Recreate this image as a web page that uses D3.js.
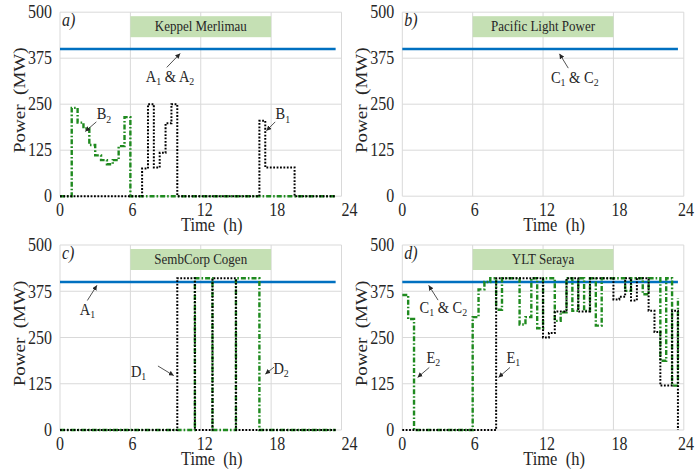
<!DOCTYPE html>
<html>
<head>
<meta charset="utf-8">
<script src="https://cdn.jsdelivr.net/npm/d3@7"></script>
<style>
  body { margin: 0; background: #fff; }
  svg { display: block; }
  svg text { font-family: "Liberation Serif", "Times New Roman", serif; }
</style>
</head>
<body>
<svg id="chart" width="696" height="472"></svg>
<script>
// half-hour steps of the day
const hours = d3.range(0, 24, 0.5);
const xTicks = [0, 6, 12, 18, 24];
const yTicks = [0, 125, 250, 375, 500];

// unit capacities (MW)
const capKeppel = 400;
const capPacific = 400;
const capSembcorp = 400;
const capSeraya = 400;

// a) Keppel Merlimau
const keppelB1 = [0,0,0,0,0,0,0,0,0,0, 0,0,0,0,75,250,78,118,198,250,
                  0,0,0,0,0,0,0,0,0,0, 0,0,0,0,205,78,78,78,78,78,
                  0,0,0,0,0,0,0,0];
const keppelB2 = [0,0,240,200,184,139,111,98,87,98, 136,215,0,0,0,0,0,0,0,0,
                  0,0,0,0,0,0,0,0,0,0, 0,0,0,0,0,0,0,0,0,0,
                  0,0,0,0,0,0,0,0];

// c) SembCorp Cogen
const sembD1 = [0,0,0,0,0,0,0,0,0,0, 0,0,0,0,0,0,0,0,0,0,
                410,410,410,0,0,0,410,410,410,410, 0,0,0,0,0,0,0,0,0,0,
                0,0,0,0,0,0,0,0];
const sembD2 = [0,0,0,0,0,0,0,0,0,0, 0,0,0,0,0,0,0,0,0,0,
                0,0,0,410,410,410,0,0,0,0, 410,410,410,410,0,0,0,0,0,0,
                0,0,0,0,0,0,0,0];

// d) YLT Seraya
const serayaE1 = [0,0,0,0,0,0,0,0,0,0, 0,0,0,0,0,0,410,410,410,410,
                  410,410,410,410,250,262,320,320,410,410, 320,320,410,410,410,410,353,360,410,350,
                  410,410,322,265,120,120,322,0];
const serayaE2 = [365,300,0,0,0,0,0,0,0,0, 0,0,305,380,400,410,325,410,410,410,
                  285,305,410,275,410,410,295,318,410,322, 410,322,410,282,410,410,410,410,376,410,
                  410,367,410,410,187,410,120,356];

const W = 696, H = 472;
const STRETCH = 1.12;
const INK = "#262626";
const cols = [[60, 341.5], [402.3, 683.8]];
const rows = [[196.2, 12.2], [430, 245]];

const styles = {
  green: { stroke: "#1f8a1f", width: 2.4, dash: "5,2,1.6,2" },
  black: { stroke: "#000", width: 2, dash: "1.8,1.6" }
};

const panels = [
  { key: "a)", name: "Keppel Merlimau", col: 0, row: 0, capacity: capKeppel,
    series: [{ values: keppelB2, style: "green" }, { values: keppelB1, style: "black" }],
    notes: [
      { text: "A_1 & A_2", t: 9.38, v: 310, from: [9.1, 350], to: [10.25, 388] },
      { text: "B_2", t: 3.75, v: 209, from: [3.1, 202], to: [2.15, 176] },
      { text: "B_1", t: 19.0, v: 209, from: [18.35, 202], to: [17.6, 178] }
    ] },
  { key: "b)", name: "Pacific Light Power", col: 1, row: 0, capacity: capPacific,
    series: [],
    notes: [
      { text: "C_1 & C_2", t: 14.7, v: 308, from: [14.15, 348], to: [13.4, 387] }
    ] },
  { key: "c)", name: "SembCorp Cogen", col: 0, row: 1, capacity: capSembcorp,
    series: [{ values: sembD2, style: "green" }, { values: sembD1, style: "black" }],
    notes: [
      { text: "A_1", t: 2.34, v: 311, from: [2.33, 350], to: [3.15, 391] },
      { text: "D_1", t: 6.7, v: 143, from: [8.35, 173], to: [9.7, 147] },
      { text: "D_2", t: 18.85, v: 151, from: [18.25, 170], to: [17.5, 151] }
    ] },
  { key: "d)", name: "YLT Seraya", col: 1, row: 1, capacity: capSeraya,
    series: [{ values: serayaE2, style: "green" }, { values: serayaE1, style: "black" }],
    notes: [
      { text: "C_1 & C_2", t: 3.5, v: 317, from: [3.05, 351], to: [2.25, 391] },
      { text: "E_2", t: 2.65, v: 182, from: [2.3, 169], to: [1.3, 142] },
      { text: "E_1", t: 9.47, v: 182, from: [9.18, 169], to: [8.2, 142] }
    ] }
];

const svg = d3.select("#chart");

svg.append("defs").append("marker")
  .attr("id", "arr")
  .attr("viewBox", "0 0 10 10")
  .attr("refX", 10).attr("refY", 5)
  .attr("markerWidth", 5).attr("markerHeight", 5)
  .attr("markerUnits", "userSpaceOnUse")
  .attr("orient", "auto")
  .append("path")
  .attr("d", "M0,0L10,5L0,10z")
  .attr("fill", INK);

// text helper: serif, slightly stretched vertically like the source image
function label(g, x, y, str, o = {}) {
  const tf = o.rotate
    ? `translate(${x},${y}) rotate(-90) scale(${STRETCH},1)`
    : `translate(${x},${y}) scale(1,${STRETCH})`;
  const size = o.size || 16;
  const t = g.append("text")
    .attr("transform", tf)
    .attr("text-anchor", o.anchor || "middle")
    .attr("font-size", size)
    .attr("fill", INK)
    .style("white-space", "pre");
  if (o.dy) t.attr("dy", o.dy);
  if (o.italic) t.attr("font-style", "italic");
  const parts = str.split(/_(\d)/);
  parts.forEach((p, i) => {
    if (!p) return;
    const sub = i % 2 === 1;
    const prevSub = i > 0 && (i - 1) % 2 === 1 && parts[i - 1];
    const ts = t.append("tspan").text(p);
    if (sub) ts.attr("font-size", size * 0.68).attr("dy", 3);
    else if (prevSub) ts.attr("dy", -3);
  });
  return t;
}

panels.forEach(p => {
  const x = d3.scaleLinear().domain([0, 24]).range(cols[p.col]);
  const xLab = d3.scaleLinear().domain([0, 24]).range([cols[p.col][0], cols[p.col][1] + 8]);
  const y = d3.scaleLinear().domain([0, 500]).range(rows[p.row]);
  const g = svg.append("g");
  const [left, right] = x.range();
  const [bottom, top] = y.range();

  // grid
  g.append("g").selectAll("line.h")
    .data(yTicks)
    .join("line")
    .attr("x1", left).attr("x2", right)
    .attr("y1", d => y(d)).attr("y2", d => y(d))
    .attr("stroke", "#d9d9d9").attr("stroke-width", 1);
  g.append("g").selectAll("line.v")
    .data(xTicks)
    .join("line")
    .attr("x1", d => x(d)).attr("x2", d => x(d))
    .attr("y1", top).attr("y2", bottom)
    .attr("stroke", "#d9d9d9").attr("stroke-width", 1);

  // tick labels
  yTicks.forEach(v => label(g, left - 8, y(v), String(v), { anchor: "end", dy: "0.35em" }));
  xTicks.forEach(t => label(g, Math.min(xLab(t), W - 10), bottom + 20, String(t)));

  // axis titles
  label(g, left - 35, (top + bottom) / 2 - 4, "Power  (MW)", { rotate: true, size: 17 });
  label(g, (left + right) / 2 + 11, bottom + 35, "Time  (h)", { size: 16.5 });

  // plant name box
  const bx0 = x(6), bx1 = x(18), by0 = top + 4, by1 = top + 25;
  g.append("rect")
    .attr("x", bx0).attr("y", by0)
    .attr("width", bx1 - bx0).attr("height", by1 - by0)
    .attr("fill", "#c5e0b4");
  label(g, (bx0 + bx1) / 2, (by0 + by1) / 2 + 4.5, p.name, { size: 13 });

  // panel letter
  label(g, left + 2, top + 14, p.key, { anchor: "start", italic: true });

  // capacity line
  const line = d3.line()
    .x(d => x(d.t))
    .y(d => y(d.v))
    .curve(d3.curveStepAfter);

  g.append("path")
    .datum([{ t: hours[0], v: p.capacity }, { t: hours[hours.length - 1], v: p.capacity }])
    .attr("d", line)
    .attr("fill", "none")
    .attr("stroke", "#0070c0")
    .attr("stroke-width", 2.5);

  // unit outputs
  p.series.forEach(s => {
    const st = styles[s.style];
    g.append("path")
      .datum(s.values.map((v, i) => ({ t: hours[i], v })))
      .attr("d", line)
      .attr("fill", "none")
      .attr("stroke", st.stroke)
      .attr("stroke-width", st.width)
      .attr("stroke-dasharray", st.dash);
  });

  // annotations
  p.notes.forEach(n => {
    g.append("line")
      .attr("x1", x(n.from[0])).attr("y1", y(n.from[1]))
      .attr("x2", x(n.to[0])).attr("y2", y(n.to[1]))
      .attr("stroke", INK).attr("stroke-width", 0.8)
      .attr("marker-end", "url(#arr)");
    label(g, x(n.t), y(n.v), n.text, { size: 14.5 });
  });
});
</script>
</body>
</html>
